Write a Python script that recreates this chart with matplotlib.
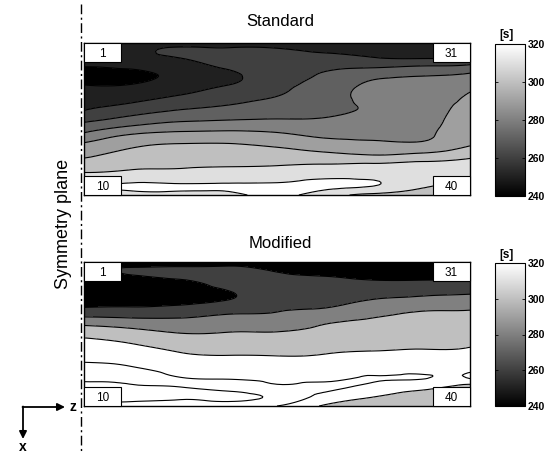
import numpy as np
import matplotlib.pyplot as plt
import matplotlib.tri as mtri
from matplotlib.colors import Normalize
from matplotlib.cm import ScalarMappable
from matplotlib.patches import Rectangle

plt.rcParams['font.family'] = ['Liberation Sans', 'DejaVu Sans']

# grid of read-off positions: z across (0..1), x down (0..1)
z_pos = [0.0, 0.125, 0.25, 0.375, 0.5, 0.625, 0.75, 0.875, 1.0]
x_pos = [0.0, 0.046, 0.099, 0.151, 0.211, 0.276, 0.342, 0.408, 0.474,
         0.539, 0.605, 0.671, 0.737, 0.803, 0.868, 0.934, 1.0]

# Standard, one list per z column (top to bottom), [s]
standard_cols = [
    [256, 255, 253, 250.5, 245, 250, 253.7, 257.4, 263, 272.7, 282.2, 291.9, 298, 305, 312.3, 322, 317],
    [257, 258.5, 256.5, 252.5, 247, 250.5, 256, 261.5, 269.5, 279, 290.8, 298.5, 303.5, 308, 313.6, 321, 317],
    [256, 261.5, 260, 256, 253, 255, 260, 266.7, 274, 283.3, 293.3, 300.8, 305, 308.8, 313.8, 320.5, 317.5],
    [256, 261.5, 264, 262, 258, 260, 265, 270, 276, 284.5, 293.8, 300.8, 305, 309.2, 314.7, 320.6, 318],
    [256, 261, 263.5, 265, 266, 267.5, 269.6, 273.5, 278, 284, 292, 298.7, 304.4, 309.7, 315.5, 321, 322],
    [255, 258.5, 263, 267.5, 271, 273.5, 275.5, 277, 279.2, 283, 288, 294.6, 302.5, 310.7, 317.5, 322, 315],
    [254, 256.5, 260.5, 268, 277, 282, 283, 281.5, 282, 285, 288, 292, 300, 311.5, 317, 320.5, 307],
    [254, 256, 259.5, 270, 279.5, 282.5, 284, 285.5, 286.5, 287.5, 288.5, 292, 302.5, 313, 316, 312, 306],
    [254, 256, 259, 272, 281.5, 287, 291, 293, 294.5, 295.5, 297, 299.5, 307.5, 313, 315, 311, 305],
]

# Modified
modified_cols = [
    [255, 254, 252, 250, 249, 253, 267, 289.5, 308.8, 322, 329.7, 337.3, 345, 356, 364, 365, 355],
    [252, 261, 259, 253, 250, 254, 267, 285.5, 303, 315.5, 325.5, 333.6, 341.5, 352.5, 362, 364, 355],
    [254, 262, 263, 256, 253, 256, 269.5, 283.7, 296.4, 307.3, 317, 325.3, 332.9, 340.5, 360, 363, 352],
    [256, 262, 266, 265, 259, 262, 276, 286.9, 298, 306.5, 314.5, 323, 330.5, 338, 353, 364, 352],
    [252, 258, 262, 265, 268.5, 273.5, 279.5, 288.5, 298.5, 306.3, 314.3, 322, 329, 336, 344, 356, 340],
    [250, 254, 260, 264, 269.5, 276, 283.5, 296.8, 303.6, 310, 316.6, 323, 329.3, 335.5, 343, 333, 318],
    [247, 250, 256, 264, 273, 282.5, 293.5, 302.5, 308, 313, 318.5, 326, 333, 341, 334, 320.5, 312],
    [245, 248, 255, 265, 276, 287, 300, 305, 310, 315, 320, 326, 332.5, 341, 326, 313, 307],
    [245, 248, 254, 264, 277.5, 289.5, 301, 306, 311, 316, 321, 327, 333, 342, 311, 305, 301],
]

std_levels = [230, 250, 260, 270, 280, 290, 300, 310, 320, 400]
std_lines = [250, 260, 270, 280, 290, 300, 310, 320, 330]
mod_levels = [230, 260, 280, 300, 320, 400]
mod_lines = [260, 280, 300, 320, 340, 360]

corner_labels = ['1', '31', '10', '40']
vmin, vmax = 240, 320


def band_colors(levels):
    return [str(min(max((lo - vmin) / (vmax - vmin), 0), 1)) for lo in levels[:-1]]


def draw_panel(ax, cols, levels, lines, box_h):
    zz = np.array(cols).T
    Z, X = np.meshgrid(z_pos, x_pos)
    tri = mtri.Triangulation(Z.ravel(), X.ravel())
    refiner = mtri.UniformTriRefiner(tri)
    tri_r, val_r = refiner.refine_field(zz.ravel(), subdiv=3)
    ax.tricontourf(tri_r, val_r, levels=levels, colors=band_colors(levels))
    ax.tricontour(tri_r, val_r, levels=lines, colors='k', linewidths=0.8)
    ax.set_xlim(0, 1)
    ax.set_ylim(1, 0)
    ax.set_xticks([])
    ax.set_yticks([])
    for s in ax.spines.values():
        s.set_linewidth(1.0)
    w = 37 / 386
    spots = [(0, 0), (1 - w, 0), (0, 1 - box_h), (1 - w, 1 - box_h)]
    for (bx, by), lab in zip(spots, corner_labels):
        ax.add_patch(Rectangle((bx, by), w, box_h, facecolor='white',
                               edgecolor='k', lw=0.8, zorder=5, clip_on=False))
        ax.text(bx + w / 2, by + box_h - 0.012, lab, ha='center', va='bottom',
                fontsize=8.5, zorder=6)


def draw_cbar(cax):
    cb = fig.colorbar(ScalarMappable(Normalize(vmin, vmax), cmap='gray'), cax=cax,
                      ticks=[240, 260, 280, 300, 320])
    cb.outline.set_linewidth(0.8)
    cax.yaxis.set_ticks_position('both')
    cax.tick_params(length=2.5, width=0.6, direction='in', labelsize=7.5, pad=2)
    for t in cax.get_yticklabels():
        t.set_fontweight('bold')


fig = plt.figure(figsize=(5.56, 4.55), dpi=100)
W, H = 556, 455

ax1 = fig.add_axes([84 / W, 1 - 195 / H, 386 / W, 152 / H])
ax2 = fig.add_axes([84 / W, 1 - 406 / H, 386 / W, 144 / H])
draw_panel(ax1, standard_cols, std_levels, std_lines, 19 / 152)
draw_panel(ax2, modified_cols, mod_levels, mod_lines, 19 / 144)

cax1 = fig.add_axes([495 / W, 1 - 196 / H, 30 / W, 152 / H])
cax2 = fig.add_axes([495 / W, 1 - 406 / H, 30 / W, 143 / H])
draw_cbar(cax1)
draw_cbar(cax2)

# decorations in pixel coordinates
ov = fig.add_axes([0, 0, 1, 1], facecolor='none')
ov.set_xlim(0, W)
ov.set_ylim(H, 0)
ov.axis('off')

ov.text(280, 22, 'Standard', ha='center', va='center', fontsize=12)
ov.text(280, 243, 'Modified', ha='center', va='center', fontsize=12)
ov.text(506, 35, '[s]', ha='center', va='center', fontsize=8.5, fontweight='bold')
ov.text(506, 255, '[s]', ha='center', va='center', fontsize=8.5, fontweight='bold')

ov.plot([81, 81], [4, 453], color='k', lw=1, linestyle=(0, (7, 2.5, 1.5, 2.5)))
ov.text(64, 224, 'Symmetry plane', rotation=90, ha='center', va='center', fontsize=13)

ov.annotate('', xy=(65, 407), xytext=(22.5, 407),
            arrowprops=dict(arrowstyle='-|>', color='k', lw=1.3, mutation_scale=11,
                            shrinkA=0, shrinkB=0))
ov.annotate('', xy=(23, 439), xytext=(23, 406.5),
            arrowprops=dict(arrowstyle='-|>', color='k', lw=1.3, mutation_scale=11,
                            shrinkA=0, shrinkB=0))
ov.text(73, 407, 'z', ha='center', va='center', fontsize=10, fontweight='bold')
ov.text(23, 447, 'x', ha='center', va='center', fontsize=10, fontweight='bold')

fig.savefig('out.png', dpi=100)
